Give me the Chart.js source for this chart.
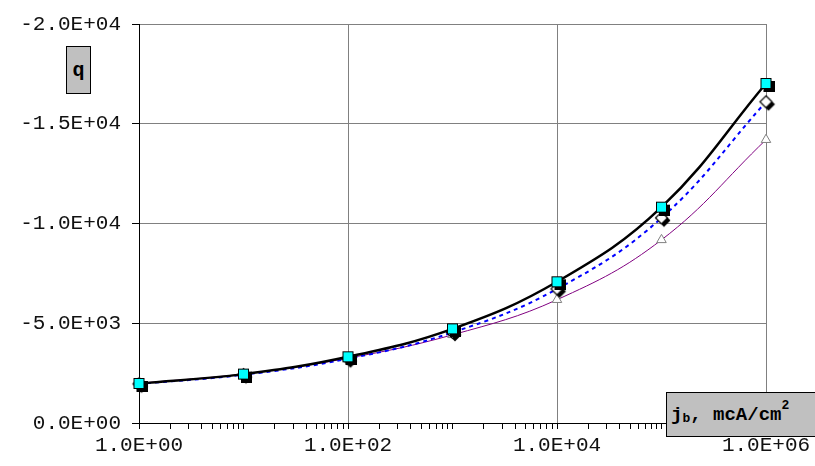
<!DOCTYPE html>
<html>
<head>
<meta charset="utf-8">
<script src="https://cdn.jsdelivr.net/npm/chart.js@4"></script>
<style>
  html, body { margin: 0; padding: 0; background: #fff; }
  #wrap { position: relative; width: 815px; height: 466px; overflow: hidden; }
  canvas { display: block; }
  .lbl { position: absolute; background: #C0C0C0; border: 1px solid #000; box-sizing: border-box;
         font-family: "Liberation Mono", "Courier New", monospace; font-weight: bold; color: #000;
         display: flex; align-items: center; justify-content: center; white-space: nowrap; }
  #qlbl { left: 66px; top: 46px; width: 25px; height: 48px; font-size: 20px; }
  #xlbl { left: 666px; top: 392px; width: 152px; height: 45px; font-size: 19px; justify-content: flex-start; padding-left: 4px; }
  #xlbl .sb { font-size: 13px; position: relative; top: 4px; }
  #xlbl .sp { font-size: 13px; position: relative; top: -9px; }
</style>
</head>
<body>
<div id="wrap">
  <canvas id="c" width="815" height="466"></canvas>
  <div class="lbl" id="qlbl">q</div>
  <div class="lbl" id="xlbl">j<span class="sb">b</span>,&nbsp;mcA/cm<span class="sp">2</span></div>
</div>
<script>
// ---- data ----
const currentDensity = [1, 10, 100, 1000, 10000, 100000, 1000000];
const seriesSquare   = [-1980, -2450, -3320, -4720, -7080, -10820, -17020];
const seriesDiamond  = [-1960, -2420, -3220, -4540, -6720, -10280, -16100];
const seriesTriangle = [-1990, -2460, -3250, -4420, -6180, -9180, -14200];
const xMajorTicks = [1, 100, 10000, 1000000];
const yTicks = [0, -5000, -10000, -15000, -20000];

function sci(v) {
  if (v === 0) return '0.0E+00';
  const sign = v < 0 ? '-' : '';
  const a = Math.abs(v);
  const e = Math.floor(Math.log10(a) + 1e-9);
  const m = a / Math.pow(10, e);
  return sign + m.toFixed(1) + 'E+' + String(e).padStart(2, '0');
}

function makeSquare() {
  const c = document.createElement('canvas'); c.width = 17; c.height = 17;
  const g = c.getContext('2d');
  g.fillStyle = '#000'; g.fillRect(6, 6, 11, 11);
  g.fillStyle = '#00FFFF'; g.fillRect(3, 3, 11, 11);
  g.strokeStyle = '#000'; g.lineWidth = 1; g.strokeRect(3.5, 3.5, 10, 10);
  return c;
}
function makeDiamond() {
  const c = document.createElement('canvas'); c.width = 21; c.height = 21;
  const g = c.getContext('2d');
  const d = (cx, cy, r) => { g.beginPath(); g.moveTo(cx, cy - r); g.lineTo(cx + r, cy); g.lineTo(cx, cy + r); g.lineTo(cx - r, cy); g.closePath(); };
  g.fillStyle = '#000'; d(13, 13, 6.5); g.fill();
  g.fillStyle = '#fff'; d(10.5, 10.5, 6); g.fill();
  g.strokeStyle = '#000'; g.lineWidth = 1.2; g.stroke();
  return c;
}

const toPts = arr => currentDensity.map((x, i) => ({ x: x, y: arr[i] }));

new Chart(document.getElementById('c'), {
  type: 'line',
  data: {
    datasets: [
      { label: 'triangle', data: toPts(seriesTriangle), borderColor: '#800080', borderWidth: 1,
        pointStyle: 'triangle', pointRadius: 5.5, pointBackgroundColor: '#fff', pointBorderColor: '#808080', pointBorderWidth: 1,
        tension: 0.4, fill: false, order: 3, clip: false },
      { label: 'diamond', data: toPts(seriesDiamond), borderColor: '#0000FF', borderWidth: 2, borderDash: [4, 4],
        pointStyle: makeDiamond(), tension: 0.4, fill: false, order: 2, clip: false },
      { label: 'square', data: toPts(seriesSquare), borderColor: '#000', borderWidth: 2.5,
        pointStyle: makeSquare(), tension: 0.4, fill: false, order: 1, clip: false }
    ]
  },
  options: {
    responsive: false, animation: false, devicePixelRatio: 1,
    layout: { padding: { left: 0, right: 49, top: 24, bottom: 0 } },
    plugins: { legend: { display: false }, tooltip: { enabled: false } },
    elements: { point: { hoverRadius: 0 } },
    scales: {
      x: {
        type: 'logarithmic', min: 1, max: 1000000,
        afterBuildTicks: (s) => {
          const t = [];
          for (let d = 0; d < 6; d++) for (let m = 1; m < 10; m++) t.push({ value: m * Math.pow(10, d) });
          t.push({ value: 1000000 });
          s.ticks = t;
        },
        afterFit: (s) => { s.height = 43; },
        ticks: {
          autoSkip: false, maxRotation: 0, minRotation: 0, color: '#111', padding: 4,
          font: { family: 'Liberation Mono', size: 21 },
          callback: (v) => xMajorTicks.includes(v) ? sci(v) : ''
        },
        grid: {
          color: (ctx) => (ctx.tick && [100, 10000, 1000000].includes(ctx.tick.value)) ? '#808080' : 'rgba(0,0,0,0)',
          tickColor: '#000', tickLength: 6, lineWidth: 1, drawTicks: true
        },
        border: { color: '#000', width: 1 }
      },
      y: {
        type: 'linear', min: -20000, max: 0, reverse: true,
        afterBuildTicks: (s) => { s.ticks = yTicks.map(v => ({ value: v })); },
        afterFit: (s) => { s.width = 139; },
        ticks: { color: '#111', padding: 11, font: { family: 'Liberation Mono', size: 21 }, callback: (v) => sci(v) },
        grid: { color: '#808080', tickColor: '#000', tickLength: 7, lineWidth: 1 },
        border: { color: '#000', width: 1 }
      }
    }
  }
});
</script>
</body>
</html>
